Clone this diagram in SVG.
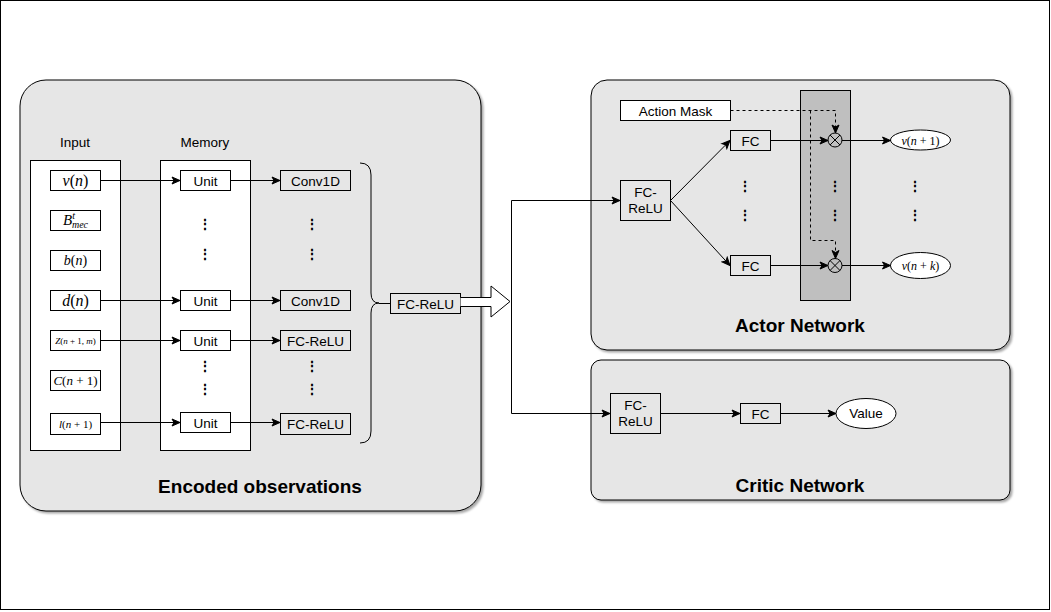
<svg xmlns="http://www.w3.org/2000/svg" width="1051" height="612" viewBox="0 0 1051 612">
<defs>
<marker id="arr" markerWidth="10" markerHeight="10" refX="9" refY="5" orient="auto" markerUnits="userSpaceOnUse">
<path d="M1,1.5 L9,5 L1,8.5 L3,5 z" fill="#000" stroke="#000" stroke-width="1"/>
</marker>
<filter id="sh" x="-5%" y="-5%" width="110%" height="110%">
<feDropShadow dx="2" dy="2" stdDeviation="1.2" flood-color="#000" flood-opacity="0.35"/>
</filter>
</defs>
<style>
.panel{fill:#e6e6e6;stroke:#000;stroke-width:1;filter:url(#sh)}
.box{fill:#fff;stroke:#000;stroke-width:1}
.gbox{fill:#e6e6e6;stroke:#000;stroke-width:1}
.t{font-family:"Liberation Sans",Arial,sans-serif;font-size:13.5px;fill:#000;text-anchor:middle}
.title{font-family:"Liberation Sans",Arial,sans-serif;font-size:19px;font-weight:bold;fill:#000;text-anchor:middle}
.m{font-family:"Liberation Serif","Times New Roman",serif;fill:#000;text-anchor:middle}
.dots{font-family:"Liberation Sans",Arial,sans-serif;font-size:14px;font-weight:bold;fill:#000;text-anchor:middle}
.ln{fill:none;stroke:#000;stroke-width:1}
.dash{fill:none;stroke:#000;stroke-width:1;stroke-dasharray:3,3}
</style>
<rect x="0.5" y="0.5" width="1049" height="609" fill="#fff" stroke="#000"/>

<g id="encoded-panel">
<rect class="panel" x="20" y="80" width="461" height="431" rx="26"/>
<text class="title" x="260" y="493">Encoded observations</text>
<text class="t" x="75" y="147">Input</text>
<text class="t" x="205" y="147">Memory</text>
<rect class="box" x="30.5" y="160.5" width="90" height="290"/>
<rect class="box" x="160.5" y="160.5" width="90" height="290"/>
</g>

<g id="input-v"><rect class="box" x="50.5" y="170.5" width="50" height="20"/>
<text class="m" x="75.5" y="186" font-size="16"><tspan font-style="italic">v</tspan>(<tspan font-style="italic">n</tspan>)</text></g>
<g id="input-B"><rect class="box" x="50.5" y="210.5" width="50" height="20"/>
<text class="m" x="75.5" y="225" font-size="15"><tspan font-style="italic">B</tspan><tspan font-size="10" font-style="italic" dy="-6">t</tspan><tspan font-size="10" font-style="italic" dx="-3" dy="9">mec</tspan></text></g>
<g id="input-b"><rect class="box" x="50.5" y="250.5" width="50" height="20"/>
<text class="m" x="75.5" y="265" font-size="14"><tspan font-style="italic">b</tspan>(<tspan font-style="italic">n</tspan>)</text></g>
<g id="input-d"><rect class="box" x="50.5" y="290.5" width="50" height="20"/>
<text class="m" x="75.5" y="306" font-size="16"><tspan font-style="italic">d</tspan>(<tspan font-style="italic">n</tspan>)</text></g>
<g id="input-Z"><rect class="box" x="50.5" y="330.5" width="50" height="20"/>
<text class="m" x="75.5" y="343.5" font-size="9"><tspan font-style="italic">Z</tspan>(<tspan font-style="italic">n</tspan> + 1, <tspan font-style="italic">m</tspan>)</text></g>
<g id="input-C"><rect class="box" x="50.5" y="370.5" width="50" height="20"/>
<text class="m" x="75.5" y="385" font-size="13"><tspan font-style="italic">C</tspan>(<tspan font-style="italic">n</tspan> + 1)</text></g>
<g id="input-l"><rect class="box" x="50.5" y="413.5" width="50" height="21"/>
<text class="m" x="75.5" y="428" font-size="11"><tspan font-style="italic">l</tspan>(<tspan font-style="italic">n</tspan> + 1)</text></g>

<g id="unit1"><rect class="box" x="180.5" y="170.5" width="50" height="20"/><text class="t" x="205.5" y="185.5">Unit</text></g>
<g id="unit2"><rect class="box" x="180.5" y="290.5" width="50" height="20"/><text class="t" x="205.5" y="305.5">Unit</text></g>
<g id="unit3"><rect class="box" x="180.5" y="330.5" width="50" height="20"/><text class="t" x="205.5" y="345.5">Unit</text></g>
<g id="unit4"><rect class="box" x="180.5" y="412.5" width="50" height="20"/><text class="t" x="205.5" y="427.5">Unit</text></g>

<g id="conv1"><rect class="gbox" x="280.5" y="170.5" width="70" height="20"/><text class="t" x="315.5" y="185.5">Conv1D</text></g>
<g id="conv2"><rect class="gbox" x="280.5" y="290.5" width="70" height="20"/><text class="t" x="315.5" y="305.5">Conv1D</text></g>
<g id="fcrelu1"><rect class="gbox" x="280.5" y="330.5" width="70" height="20"/><text class="t" x="315.5" y="345.5">FC-ReLU</text></g>
<g id="fcrelu2"><rect class="gbox" x="280.5" y="413.5" width="70" height="21"/><text class="t" x="315.5" y="429">FC-ReLU</text></g>

<g id="dots-enc">
<text class="dots" x="205" y="229">⋮</text><text class="dots" x="205" y="259">⋮</text>
<text class="dots" x="312" y="229">⋮</text><text class="dots" x="312" y="259">⋮</text>
<text class="dots" x="205" y="371">⋮</text><text class="dots" x="205" y="394">⋮</text>
<text class="dots" x="312" y="371">⋮</text><text class="dots" x="312" y="394">⋮</text>
</g>

<g id="brace">
<path class="ln" d="M360,163 Q371,163 371,175 L371,293 Q371,303 379,303 Q371,303 371,313 L371,431 Q371,443 360,443"/>
</g>
<g id="fcrelu-merge"><rect class="gbox" x="390.5" y="293.5" width="70" height="20"/><text class="t" x="425.5" y="308.5">FC-ReLU</text></g>

<g id="actor-panel">
<rect class="panel" x="591" y="80" width="419" height="270" rx="16"/>
<text class="title" x="800" y="332">Actor Network</text>
<rect x="800.5" y="90.5" width="50" height="210" fill="#bfbfbf" stroke="#000"/>
</g>
<g id="critic-panel">
<rect class="panel" x="591" y="360" width="419" height="140" rx="10"/>
<text class="title" x="800" y="492">Critic Network</text>
</g>

<g id="action-mask"><rect class="box" x="620.5" y="100.5" width="110" height="20"/><text class="t" x="675.5" y="115.5">Action Mask</text></g>
<g id="actor-fcrelu"><rect class="gbox" x="620.5" y="180.5" width="50" height="40"/><text class="t" x="645.5" y="197">FC-</text><text class="t" x="645.5" y="212.5">ReLU</text></g>
<g id="actor-fc1"><rect class="gbox" x="730.5" y="130.5" width="40" height="20"/><text class="t" x="750.5" y="145.5">FC</text></g>
<g id="actor-fc2"><rect class="gbox" x="730.5" y="255.5" width="40" height="20"/><text class="t" x="750.5" y="270.5">FC</text></g>
<g id="otimes1"><circle cx="835" cy="140" r="7" fill="none" stroke="#000"/><path class="ln" d="M830,135 L840,145 M840,135 L830,145"/></g>
<g id="otimes2"><circle cx="835" cy="265.5" r="7" fill="none" stroke="#000"/><path class="ln" d="M830,260.5 L840,270.5 M840,260.5 L830,270.5"/></g>
<g id="out1"><ellipse cx="920.5" cy="140" rx="30" ry="10" fill="#fff" stroke="#000"/>
<text class="m" x="920.5" y="144.5" font-size="12"><tspan font-style="italic">v</tspan>(<tspan font-style="italic">n</tspan> + 1)</text></g>
<g id="outk"><ellipse cx="920.5" cy="265.5" rx="30" ry="13" fill="#fff" stroke="#000"/>
<text class="m" x="920.5" y="270" font-size="12"><tspan font-style="italic">v</tspan>(<tspan font-style="italic">n</tspan> + <tspan font-style="italic">k</tspan>)</text></g>
<g id="dots-actor">
<text class="dots" x="745" y="191">⋮</text><text class="dots" x="745" y="220">⋮</text>
<text class="dots" x="835" y="191">⋮</text><text class="dots" x="835" y="220">⋮</text>
<text class="dots" x="915" y="191">⋮</text><text class="dots" x="915" y="220">⋮</text>
</g>

<g id="critic-fcrelu"><rect class="gbox" x="610.5" y="393.5" width="50" height="40"/><text class="t" x="635.5" y="410">FC-</text><text class="t" x="635.5" y="425.5">ReLU</text></g>
<g id="critic-fc"><rect class="gbox" x="740.5" y="403.5" width="40" height="20"/><text class="t" x="760.5" y="418.5">FC</text></g>
<g id="value"><ellipse cx="866" cy="413.5" rx="30" ry="15" fill="#fff" stroke="#000"/><text class="t" x="866" y="418">Value</text></g>

<g id="connectors">
<path class="ln" d="M100.5,180.5 L180,180.5" marker-end="url(#arr)"/>
<path class="ln" d="M100.5,300.5 L180,300.5" marker-end="url(#arr)"/>
<path class="ln" d="M100.5,340.5 L180,340.5" marker-end="url(#arr)"/>
<path class="ln" d="M100.5,422.5 L180,422.5" marker-end="url(#arr)"/>
<path class="ln" d="M230.5,180.5 L280,180.5" marker-end="url(#arr)"/>
<path class="ln" d="M230.5,300.5 L280,300.5" marker-end="url(#arr)"/>
<path class="ln" d="M230.5,340.5 L280,340.5" marker-end="url(#arr)"/>
<path class="ln" d="M230.5,422.5 L280,422.5" marker-end="url(#arr)"/>
<path class="ln" d="M379,303.5 L390,303.5"/>
<path d="M460.5,297.5 L491,297.5 L491,286 L510,301.5 L491,317 L491,306.5 L460.5,306.5" fill="#fff" stroke="#000"/>
<path class="ln" d="M511.5,413.5 L511.5,200.5 L620,200.5" marker-end="url(#arr)"/>
<path class="ln" d="M511.5,413.5 L610,413.5" marker-end="url(#arr)"/>
<path class="ln" d="M670.5,200.5 L730,140.5" marker-end="url(#arr)"/>
<path class="ln" d="M670.5,200.5 L730,265.5" marker-end="url(#arr)"/>
<path class="ln" d="M770.5,140.5 L828,140.5" marker-end="url(#arr)"/>
<path class="ln" d="M770.5,265.5 L828,265.5" marker-end="url(#arr)"/>
<path class="ln" d="M842,140.5 L890.5,140.5" marker-end="url(#arr)"/>
<path class="ln" d="M842,265.5 L890.5,265.5" marker-end="url(#arr)"/>
<path class="dash" d="M730.5,110.5 L835.5,110.5 L835.5,133" marker-end="url(#arr)"/>
<path class="dash" d="M810.5,110.5 L810.5,240.5 L835.5,240.5 L835.5,258.5" marker-end="url(#arr)"/>
<path class="ln" d="M660.5,413.5 L740,413.5" marker-end="url(#arr)"/>
<path class="ln" d="M780.5,413.5 L836,413.5" marker-end="url(#arr)"/>
</g>
</svg>
